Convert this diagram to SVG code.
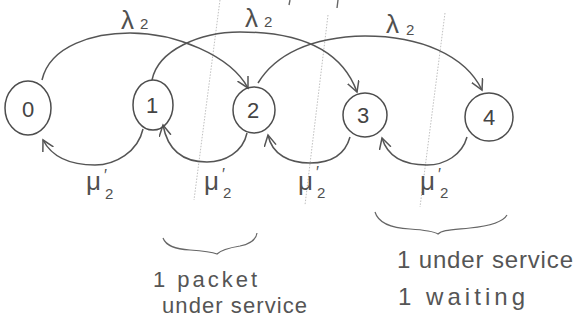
<svg xmlns="http://www.w3.org/2000/svg" width="577" height="326" viewBox="0 0 577 326">
<style>
  .bg{fill:#ffffff}
  .node{fill:none;stroke:#4d4d4d;stroke-width:1.5}
  .digit{font-family:"Liberation Sans",Arial,sans-serif;font-size:22px;fill:#444;text-anchor:middle}
  .arc{fill:none;stroke:#555;stroke-width:1.5}
  .faint{fill:none;stroke:#b8b8b8;stroke-width:0.9;stroke-dasharray:1.5 1.5}
  .tick{fill:none;stroke:#666;stroke-width:1.4}
  .lbl{font-family:"Liberation Sans",Arial,sans-serif;font-size:26px;fill:#505050}
  .pr{font-size:16px}
  .sub{font-size:15px}
  .note1{font-family:"Liberation Sans",Arial,sans-serif;font-size:22px;fill:#555}
  .note2{font-family:"Liberation Sans",Arial,sans-serif;font-size:24px;fill:#555}
  .brace{fill:none;stroke:#666;stroke-width:1.2}
</style>
<defs>
  <marker id="arrow" markerUnits="userSpaceOnUse" markerWidth="16" markerHeight="16" refX="11" refY="6" orient="auto">
    <path d="M0,0 L11,6 L0,12" fill="none" stroke="#555" stroke-width="1.5"/>
  </marker>
</defs>
<rect class="bg" x="0" y="0" width="577" height="326"/>

<g id="guides">
  <path class="faint" d="M220,0 L194,200"/>
  <path class="faint" d="M328,15 L305,205"/>
  <path class="faint" d="M445,13 L420,207"/>
  <path class="tick" d="M290,0 L289,5"/>
  <path class="tick" d="M338,0 L337,8"/>
</g>

<g id="connectors">
  <path class="arc" marker-end="url(#arrow)" d="M42,80 C50,45 95,33 130,33 C175,33 230,55 248,88"/>
  <path class="arc" marker-end="url(#arrow)" d="M152,80 C158,50 200,32 240,32 C290,32 340,45 357,92"/>
  <path class="arc" marker-end="url(#arrow)" d="M258,83 C275,55 310,37 365,36 C420,36 465,55 482,90"/>
  <path class="arc" marker-end="url(#arrow)" d="M143,129 C138,152 115,165 95,165 C70,165 52,157 43,140"/>
  <path class="arc" marker-end="url(#arrow)" d="M247,133 C243,152 225,162 207,162 C185,162 168,152 163,125"/>
  <path class="arc" marker-end="url(#arrow)" d="M350,137 C345,155 330,163 310,163 C290,163 272,155 268,135"/>
  <path class="arc" marker-end="url(#arrow)" d="M467,137 C462,155 445,165 427,165 C405,165 388,158 382,138"/>
  <text class="lbl" x="121" y="29">λ<tspan class="sub" x="140" y="29">2</tspan></text>
  <text class="lbl" x="245" y="27">λ<tspan class="sub" x="264" y="27">2</tspan></text>
  <text class="lbl" x="386" y="33">λ<tspan class="sub" x="406" y="35">2</tspan></text>
  <text class="lbl" x="86" y="190">μ<tspan class="pr" x="104" y="181">′</tspan><tspan class="sub" x="105" y="199">2</tspan></text>
  <text class="lbl" x="204" y="190">μ<tspan class="pr" x="222" y="180">′</tspan><tspan class="sub" x="223" y="198">2</tspan></text>
  <text class="lbl" x="298" y="190">μ<tspan class="pr" x="316" y="178">′</tspan><tspan class="sub" x="317" y="198">2</tspan></text>
  <text class="lbl" x="420" y="190">μ<tspan class="pr" x="438" y="180">′</tspan><tspan class="sub" x="440" y="198">2</tspan></text>
</g>

<g id="node0"><ellipse class="node" cx="28" cy="108" rx="23" ry="27"/><text class="digit" x="28" y="117">0</text></g>
<g id="node1"><ellipse class="node" cx="153" cy="105" rx="20" ry="25"/><text class="digit" x="152" y="113">1</text></g>
<g id="node2"><ellipse class="node" cx="254" cy="110" rx="21" ry="23"/><text class="digit" x="253" y="118">2</text></g>
<g id="node3"><ellipse class="node" cx="365" cy="115" rx="22" ry="22"/><text class="digit" x="363" y="123">3</text></g>
<g id="node4"><ellipse class="node" cx="489" cy="117" rx="24" ry="24"/><text class="digit" x="489" y="125">4</text></g>

<g id="note1">
  <path class="brace" d="M163,238 C166,246 175,249 190,250 C205,251 212,252 217,254 C221,250 228,248 240,246 C250,244 256,240 257,233"/>
  <text class="note1" x="153" y="287" textLength="104" lengthAdjust="spacing">1 packet</text>
  <text class="note1" x="162" y="313" textLength="145" lengthAdjust="spacing">under service</text>
</g>
<g id="note2">
  <path class="brace" d="M375,212 C378,222 390,228 410,229 C425,230 433,231 438,234 C442,230 450,230 470,228 C490,226 503,222 507,215"/>
  <text class="note2" x="397" y="268" textLength="176" lengthAdjust="spacing">1 under service</text>
  <text class="note2" x="398" y="305" textLength="127" lengthAdjust="spacing">1 waiting</text>
</g>
</svg>
